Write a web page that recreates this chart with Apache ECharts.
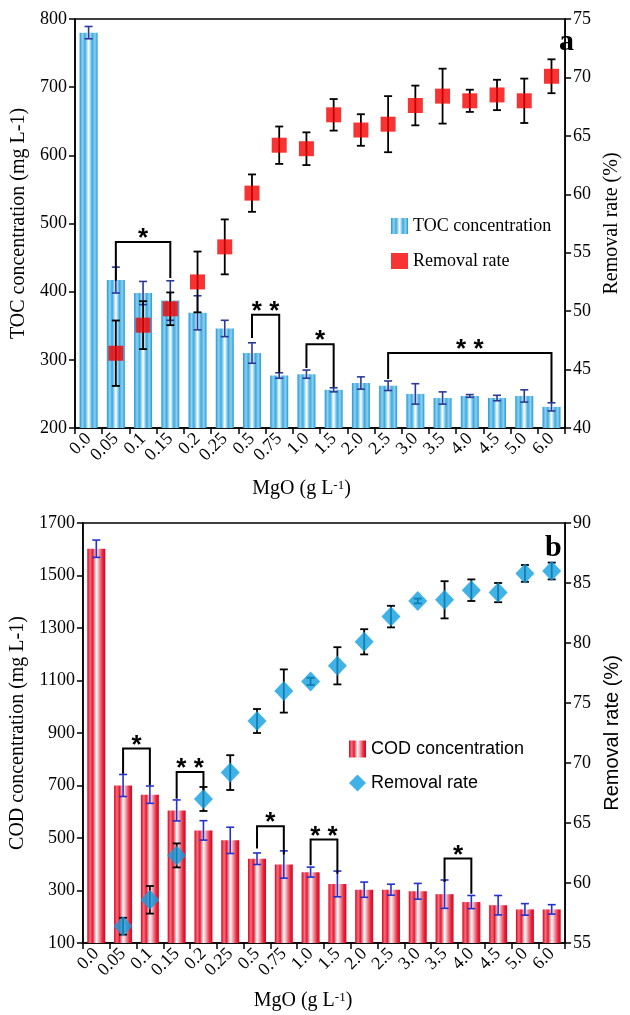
<!DOCTYPE html>
<html><head><meta charset="utf-8">
<script src="https://cdn.jsdelivr.net/npm/echarts@6/dist/echarts.min.js"></script>
<style>html,body{margin:0;padding:0;background:#fff}#c{width:630px;height:1015px}</style>
</head><body><div id="c"></div>
<script>
const categories = ['0.0','0.05','0.1','0.15','0.2','0.25','0.5','0.75','1.0','1.5','2.0','2.5','3.0','3.5','4.0','4.5','5.0','6.0'];
// panel a
const tocValues = [780,417,398,387,369,346,310,277,279,256,266,262,250,244,247,244,247,231];
const tocErrors = [9,19,17,29,25,12,15,4,6,3,9,7,15,9,2,4,9,6];
const tocRemoval = [null,46.4,48.8,50.2,52.5,55.5,60.1,64.2,63.9,66.8,65.5,66.0,67.6,68.4,68.0,68.5,68.0,70.1];
const tocRemovalErr = [null,2.8,2.05,1.4,2.6,2.35,1.6,1.6,1.4,1.35,1.35,2.4,1.7,2.35,0.95,1.3,1.9,1.45];
// significance brackets: [fromIdx, toIdx, topValue, leftEnd, rightEnd]
const tocSig = [[1,3,473,416,420],[6,7,366,332,281],[8,9,323,288,260],[11,17,310,272,238]];
const tocSigLabels = ['*','* *','*','* *'];
// panel b
const codValues = [1602,700,665,605,529,491,421,399,370,325,303,303,297,286,256,244,228,228];
const codErrors = [33,42,33,40,37,50,22,52,19,49,29,21,30,54,25,37,22,18];
const codRemoval = [null,56.4,58.6,62.3,67.0,69.2,73.5,76.0,76.8,78.1,80.1,82.2,83.5,83.6,84.4,84.2,85.8,86.0];
const codRemovalErr = [null,0.7,1.15,1.0,1.0,1.45,1.0,1.8,0.3,1.55,1.05,0.9,0.2,1.55,0.9,0.8,0.7,0.7];
const codSig = [[1,2,841,745,701],[3,4,751,650,682],[6,7,545,460,437],[8,9,494,396,364],[13,14,422,332,288]];
const codSigLabels = ['*','* *','*','* *','*'];
// axis ranges
const tocAxis = {min:200, max:800, interval:100};
const tocRateAxis = {min:40, max:75, interval:5};
const codAxis = {min:100, max:1700, interval:200};
const codRateAxis = {min:55, max:90, interval:5};

const SERIF = '"Liberation Serif","Times New Roman",serif';
const SANS = '"Liberation Sans",Arial,sans-serif';

function errData(vals, errs){
  const out = [];
  vals.forEach((v,i)=>{ if(v!=null) out.push([i, v-errs[i], v+errs[i]]); });
  return out;
}
function errRender(capW, color, lw){
  return function(params, api){
    const x = api.value(0);
    const p1 = api.coord([x, api.value(1)]), p2 = api.coord([x, api.value(2)]);
    const st = {stroke:color, lineWidth:lw};
    return {type:'group', children:[
      {type:'line', shape:{x1:p1[0],y1:p1[1],x2:p2[0],y2:p2[1]}, style:st},
      {type:'line', shape:{x1:p1[0]-capW/2,y1:p1[1],x2:p1[0]+capW/2,y2:p1[1]}, style:st},
      {type:'line', shape:{x1:p2[0]-capW/2,y1:p2[1],x2:p2[0]+capW/2,y2:p2[1]}, style:st}
    ]};
  };
}
function sigRender(labels){
  return function(params, api){
    const i1=api.value(0), i2=api.value(1), top=api.value(2), l=api.value(3), r=api.value(4);
    const a=api.coord([i1,top]), b=api.coord([i2,top]), c=api.coord([i1,l]), d=api.coord([i2,r]);
    return {type:'group', children:[
      {type:'polyline', shape:{points:[c,a,b,d]}, style:{stroke:'#000', lineWidth:2, fill:null}},
      {type:'text', style:{text:labels[params.dataIndex], x:(a[0]+b[0])/2, y:a[1]-3, align:'center', verticalAlign:'middle',
        font:'bold 26px "Liberation Sans"', fill:'#000'}}
    ]};
  };
}
const blueGrad = {type:'linear',x:0,y:0,x2:1,y2:0,colorStops:[
  {offset:0,color:'#1b98d6'},{offset:0.16,color:'#8fd0f0'},{offset:0.3,color:'#3caae0'},
  {offset:0.5,color:'#ffffff'},{offset:0.7,color:'#3caae0'},{offset:0.85,color:'#8fd0f0'},{offset:1,color:'#1b98d6'}]};
const redGrad = {type:'linear',x:0,y:0,x2:1,y2:0,colorStops:[
  {offset:0,color:'#e0001c'},{offset:0.16,color:'#f27080'},{offset:0.3,color:'#e41a30'},
  {offset:0.5,color:'#ffffff'},{offset:0.7,color:'#f08090'},{offset:0.85,color:'#e4283c'},{offset:1,color:'#e0001c'}]};

const axLine = {show:true, lineStyle:{color:'#000', width:1.5}};
const axTick = {show:true, inside:false, length:6, lineStyle:{color:'#000', width:1.5}};
function xAx(grid, pad, gap){
  return {type:'category', gridIndex:grid, data:categories, boundaryGap:true,
    axisLine:axLine, axisTick:Object.assign({alignWithLabel:false, interval:0}, axTick),
    axisLabel:{rotate:45, interval:0, fontFamily:SERIF, fontSize:18, color:'#000', margin:8},
    name:'MgO (g L{sup|-1})', nameLocation:'middle', nameGap:gap,
    nameTextStyle:{fontFamily:SERIF, fontSize:20, color:'#000', padding:[0,pad,0,0],
      rich:{sup:{fontFamily:SERIF, fontSize:13, color:'#000', verticalAlign:'top'}}}};
}
function yAx(grid, rng, pos, name, gap, font){
  return Object.assign({type:'value', gridIndex:grid, position:pos, splitLine:{show:false},
    axisLine:axLine, axisTick:axTick,
    axisLabel:{fontFamily:SERIF, fontSize:18, color:'#000', margin:8, formatter:function(v){return String(v);}},
    name:name, nameLocation:'middle', nameGap:gap,
    nameTextStyle:{fontFamily:font, fontSize:20, color:'#000'}}, rng);
}

const chart = echarts.init(document.getElementById('c'), null, {renderer:'canvas'});
chart.setOption({
  animation:false,
  backgroundColor:'#fff',
  title:[
    {text:'a', left:554, top:22, textStyle:{fontFamily:SERIF, fontWeight:'bold', fontSize:30, color:'#000'}},
    {text:'b', left:540, top:528, textStyle:{fontFamily:SERIF, fontWeight:'bold', fontSize:30, color:'#000'}}
  ],
  grid:[
    {left:75, top:19, width:507, height:409, show:true, borderColor:'#000', borderWidth:1.5},
    {left:76, top:523, width:495, height:420, show:true, borderColor:'#000', borderWidth:1.5}
  ],
  legend:[
    {data:[{name:'TOC concentration', icon:'rect'},{name:'Removal rate', icon:'rect'}], orient:'vertical',
     left:386, top:212, itemWidth:17, itemHeight:16, itemGap:17, selectedMode:false,
     textStyle:{fontFamily:SERIF, fontSize:18, color:'#000'}},
    {data:[{name:'COD concentration', icon:'rect'},{name:'Removal rate ', icon:'diamond'}], orient:'vertical',
     left:344, top:735, itemWidth:17, itemHeight:17, itemGap:16, selectedMode:false,
     textStyle:{fontFamily:SANS, fontSize:18, color:'#000'}}
  ],
  xAxis:[xAx(0,37,51), xAx(1,42,48)],
  yAxis:[
    yAx(0, tocAxis, 'left', 'TOC concentration (mg L-1)', 38, SERIF),
    yAx(0, tocRateAxis, 'right', 'Removal rate (%)', 30, SERIF),
    yAx(1, codAxis, 'left', 'COD concentration (mg L-1)', 53, SERIF),
    yAx(1, codRateAxis, 'right', 'Removal rate (%)', 33, SANS)
  ],
  series:[
    {name:'TOC concentration', type:'bar', xAxisIndex:0, yAxisIndex:0, data:tocValues, barWidth:18, itemStyle:{color:blueGrad}, z:2},
    {type:'custom', xAxisIndex:0, yAxisIndex:0, data:errData(tocValues,tocErrors), encode:{x:0,y:[1,2]}, renderItem:errRender(8,'#2b3a96',1.6), z:3},
    {type:'custom', xAxisIndex:0, yAxisIndex:1, data:errData(tocRemoval,tocRemovalErr), encode:{x:0,y:[1,2]}, renderItem:errRender(8,'#000',1.8), z:4},
    {name:'Removal rate', type:'scatter', xAxisIndex:0, yAxisIndex:1, data:tocRemoval, symbol:'rect', symbolSize:15, itemStyle:{color:'#f50000'}, z:5},
    {type:'custom', xAxisIndex:0, yAxisIndex:0, data:tocSig, encode:{x:[0,1],y:[2,3,4]}, renderItem:sigRender(tocSigLabels), z:6},

    {name:'COD concentration', type:'bar', xAxisIndex:1, yAxisIndex:2, data:codValues, barWidth:18, itemStyle:{color:redGrad}, z:2},
    {type:'custom', xAxisIndex:1, yAxisIndex:2, data:errData(codValues,codErrors), encode:{x:0,y:[1,2]}, renderItem:errRender(8,'#2233cc',1.6), z:3},
    {type:'custom', xAxisIndex:1, yAxisIndex:3, data:errData(codRemoval,codRemovalErr), encode:{x:0,y:[1,2]}, renderItem:errRender(8,'#000',1.8), z:4},
    {name:'Removal rate ', type:'scatter', xAxisIndex:1, yAxisIndex:3, data:codRemoval, symbol:'diamond', symbolSize:[19,20], itemStyle:{color:'#129fe0'}, z:5},
    {type:'custom', xAxisIndex:1, yAxisIndex:2, data:codSig, encode:{x:[0,1],y:[2,3,4]}, renderItem:sigRender(codSigLabels), z:6}
  ]
});
</script></body></html>
